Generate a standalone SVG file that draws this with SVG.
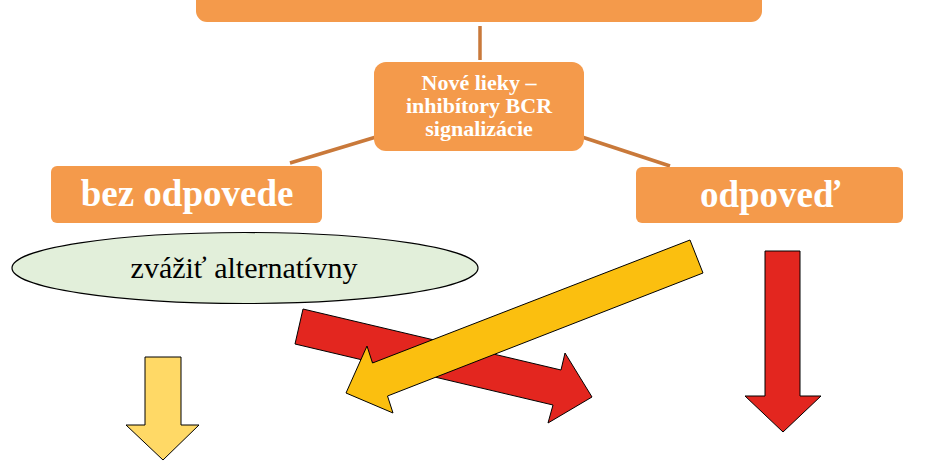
<svg xmlns="http://www.w3.org/2000/svg" width="930" height="461" viewBox="0 0 930 461">
<style>
.box{fill:#F49A4B;}
.conn{stroke:#C9793A;stroke-width:3.5;fill:none;}
.wt{font-family:"Liberation Serif","Times New Roman",serif;font-weight:bold;fill:#FFFFFF;text-anchor:middle;}
.bt{font-family:"Liberation Serif","Times New Roman",serif;fill:#000000;text-anchor:middle;}
.arr{stroke:#000000;stroke-width:1;stroke-linejoin:miter;}
</style>
<rect width="930" height="461" fill="#FFFFFF"/>
<g id="connectors">
<line class="conn" x1="480" y1="26" x2="480" y2="60"/>
<line class="conn" x1="376" y1="137" x2="290" y2="163"/>
<line class="conn" x1="582" y1="137" x2="670" y2="166"/>
</g>
<g id="top">
<rect class="box" x="196" y="-12" width="566" height="34" rx="11"/>
</g>
<g id="novelieky">
<rect class="box" x="374" y="62" width="210" height="89" rx="12"/>
<text class="wt" font-size="22" x="479" y="90">Nové lieky –</text>
<text class="wt" font-size="22" x="479" y="113">inhibítory BCR</text>
<text class="wt" font-size="22" x="479" y="136">signalizácie</text>
</g>
<g id="bezodpovede">
<rect class="box" x="51" y="166" width="271" height="57" rx="6"/>
<text class="wt" font-size="37" x="187" y="206">bez odpovede</text>
</g>
<g id="odpoved">
<rect class="box" x="636" y="167" width="267" height="56" rx="6"/>
<text class="wt" font-size="37" x="770" y="207">odpoveď</text>
</g>
<g id="alternativny">
<ellipse cx="245" cy="268" rx="233" ry="35.5" fill="#E2EFDA" stroke="#000000" stroke-width="1.2"/>
<text class="bt" font-size="30" x="244" y="278">zvážiť alternatívny</text>
</g>
<g id="arrow-red-diag">
<polygon class="arr" fill="#E3261F" points="303,309 561,370 565,353 592,397 548,423 553,405 295,344"/>
</g>
<g id="arrow-yellow-diag">
<polygon class="arr" fill="#FBBF0F" points="690,240 703,273 387.5,396 393,413 346,393 367,346 372.5,363"/>
</g>
<g id="arrow-red-down">
<polygon class="arr" fill="#E3261F" stroke="#3a3a3a" points="765,251 800,251 800,396 821,396 783,432 745,396 765,396"/>
</g>
<g id="arrow-yellow-down">
<polygon class="arr" fill="#FFD966" stroke="#3a3a3a" points="145,357 181,357 181,425 199,425 163,460 126,425 145,425"/>
</g>
</svg>
